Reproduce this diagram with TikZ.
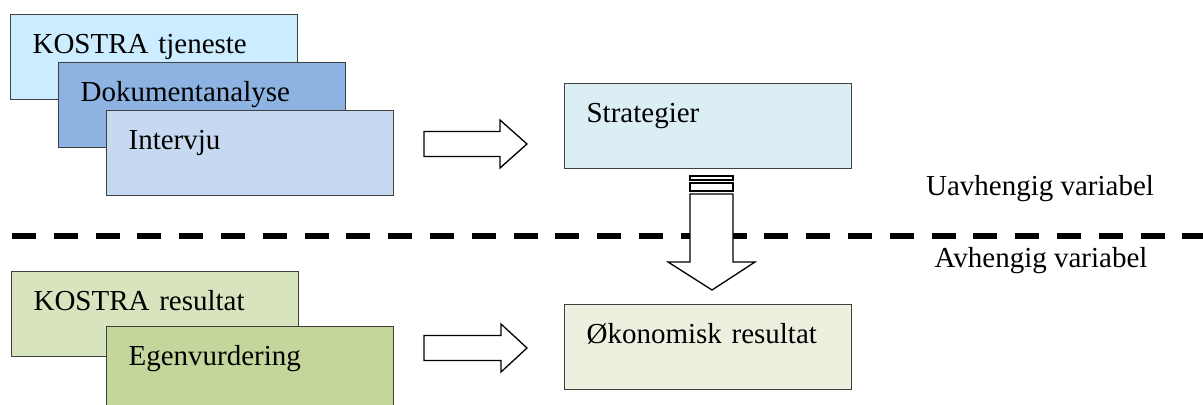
\documentclass[tikz,border=0pt]{standalone}
\usepackage{fontspec}
\setmainfont{Liberation Serif}
\usepackage{xcolor}
\usepackage{tikz}
\usetikzlibrary{positioning}
\definecolor{ktcol}{HTML}{CCECFF}
\definecolor{dkcol}{HTML}{8DB3E2}
\definecolor{ivcol}{HTML}{C6D9F1}
\definecolor{stcol}{HTML}{DAEEF3}
\definecolor{krcol}{HTML}{D7E4BD}
\definecolor{egcol}{HTML}{C3D69B}
\definecolor{okcol}{HTML}{EBF1DE}
\definecolor{boxline}{HTML}{404040}
\tikzset{
  box/.style={rectangle, draw=boxline, line width=0.6pt, anchor=north west,
              minimum width=143.5pt, minimum height=42.5pt, text width=121.5pt,
              inner xsep=11pt, inner ysep=0pt, text height=19.5pt, text depth=23pt,
              align=left, font=\fontsize{14.5pt}{17pt}\selectfont},
  varlabel/.style={anchor=base, font=\fontsize{14.5pt}{17pt}\selectfont},
  fatarrow/.style={draw=black, fill=white, line width=0.65pt, line join=miter},
  divider/.style={line width=3pt, dash pattern=on 12pt off 8.9pt},
}

\begin{document}
\begin{tikzpicture}[x=0.5pt, y=-0.5pt]
  \useasboundingbox (0,0) rectangle (1203,405);
  % data sources
  \node[box, fill=ktcol] (kt) at (10,14) {KOSTRA tjeneste};
  \node[box, fill=dkcol, below right=24pt and 24pt of kt.north west] (dk) {Dokumentanalyse};
  \node[box, fill=ivcol, below right=24pt and 24pt of dk.north west] (iv) {Intervju};
  \node[box, fill=krcol] (kr) at (11,271) {KOSTRA resultat};
  \node[box, fill=egcol, below right=27.5pt and 47.5pt of kr.north west] (eg) {Egenvurdering};
  % variables
  \node[box, fill=stcol] (st) at (564,83) {Strategier};
  \node[box, fill=okcol, below=67.5pt of st] (ok) {Økonomisk resultat};
  \node[varlabel] (uv) at (1040,196) {Uavhengig variabel};
  \node[varlabel] (av) at (1041,268) {Avhengig variabel};
  % divider
  \coordinate (dl) at (12,236);
  \coordinate (dr) at (1203,236);
  \draw[divider] (dl) -- (dr);
  % block arrows
  \coordinate (a1) at (424,144);
  \coordinate (a2) at (424,348);
  \coordinate (a3) at (690,176);
  \draw[fatarrow] (a1) ++(0,-12.5) -- ++(76,0) -- ++(0,-11.5) -- ++(27,24) -- ++(-27,24)
    -- ++(0,-11.5) -- ++(-76,0) -- cycle;
  \draw[fatarrow] (a2) ++(0,-12.5) -- ++(77,0) -- ++(0,-11.5) -- ++(26,24) -- ++(-26,24)
    -- ++(0,-11.5) -- ++(-77,0) -- cycle;
  \draw[fatarrow] (a3) rectangle ++(43,4);
  \draw[fatarrow] (a3) ++(0,7) rectangle ++(43,8);
  \draw[fatarrow] (a3) ++(0,18) -- ++(43,0) -- ++(0,68) -- ++(22,0) -- ++(-43,28)
    -- ++(-44,-28) -- ++(22,0) -- cycle;
\end{tikzpicture}
\end{document}
